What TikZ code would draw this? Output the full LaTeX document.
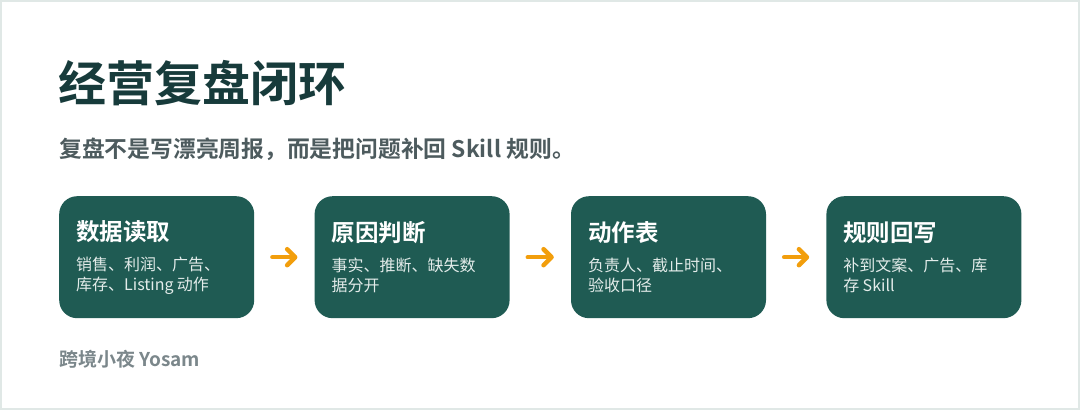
\documentclass[tikz,border=0pt]{standalone}
\usepackage{fontspec}
\setmainfont{Noto Sans CJK SC}[BoldFont={Noto Sans CJK SC Bold}]
\usetikzlibrary{positioning,arrows.meta}

\definecolor{titleink}{HTML}{173B3B}
\definecolor{subink}{HTML}{4D5B5E}
\definecolor{footink}{HTML}{7B878B}
\definecolor{framegray}{HTML}{E0E8E6}
\definecolor{boxgreen}{HTML}{1F5B53}
\definecolor{bodyink}{HTML}{E3ECEA}
\definecolor{arroworange}{HTML}{F29E0C}

\newcommand{\stagetext}[2]{{\bfseries\fontsize{23.5}{28}\selectfont\color{white}#1\par}
  \vspace{10pt}{\fontsize{16}{20}\selectfont\color{bodyink}#2\par}}

\begin{document}
\begin{tikzpicture}[x=1pt,y=-1pt,
  stage/.style={rectangle,rounded corners=18pt,fill=boxgreen,minimum width=195pt,
    minimum height=122pt,text width=161pt,align=left,inner sep=0pt},
  flow/.style={-{Straight Barb[length=8pt,width=16pt,line cap=round,line join=round]},
    line width=4.5pt,line cap=round,draw=arroworange,shorten <=18pt,shorten >=17pt}]
  \useasboundingbox (0,0) rectangle (1080,410);
  \draw[line width=2pt,draw=framegray,fill=white] (1,1) rectangle (1079,409);

  % heading
  \node[anchor=base west,inner sep=0pt,text=titleink] (title) at (58,101)
    {\bfseries\fontsize{48}{52}\selectfont 经营复盘闭环};
  \node[anchor=base west,inner sep=0pt,text=subink] (subtitle) at (59,157)
    {\bfseries\fontsize{22.8}{26}\selectfont 复盘不是写漂亮周报，而是把问题补回 Skill 规则。};

  % stages
  \node[stage,anchor=north west] (read) at (59,196)
    {\stagetext{数据读取}{销售、利润、广告、\\库存、Listing 动作}};
  \node[stage,right=60pt of read] (cause)
    {\stagetext{原因判断}{事实、推断、缺失数\\据分开}};
  \node[stage,right=61pt of cause] (action)
    {\stagetext{动作表}{负责人、截止时间、\\验收口径}};
  \node[stage,right=60pt of action] (rule)
    {\stagetext{规则回写}{补到文案、广告、库\\存 Skill}};

  \draw[flow] (read) -- (cause);
  \draw[flow] (cause) -- (action);
  \draw[flow] (action) -- (rule);

  % footer
  \node[anchor=base west,inner sep=0pt,text=footink] (author) at (59,366)
    {\bfseries\fontsize{19}{22}\selectfont 跨境小夜 Yosam};
\end{tikzpicture}
\end{document}
